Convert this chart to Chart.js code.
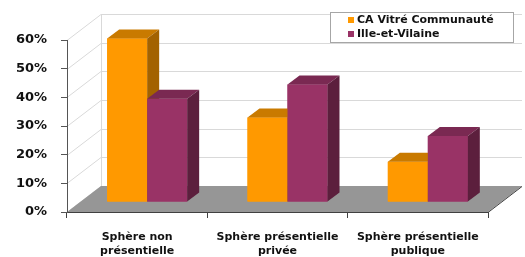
<!DOCTYPE html>
<html>
<head>
<meta charset="utf-8">
<script src="https://cdn.jsdelivr.net/npm/chart.js@4/dist/chart.umd.min.js"></script>
<style>
  html, body { margin: 0; padding: 0; background: #fff; }
</style>
</head>
<body>
<canvas id="chart" width="525" height="257"></canvas>
<script>
categories = [['Sphère non', 'présentielle'], ['Sphère présentielle', 'privée'], ['Sphère présentielle', 'publique']]
seriesNames = ['CA Vitré Communauté', 'Ille-et-Vilaine']
vitre = [57, 29.5, 14]
ille = [36, 41, 23]
yTicks = [0, 10, 20, 30, 40, 50, 60]

// front / top / side shades for the fake 3d look
shades = [
  ['#FF9900', '#C97A00', '#A36200'],
  ['#993366', '#7A2952', '#5C1F3D']
]

wall = {dx: 34, dy: -26}   // back wall offset
barShift = {dx: 10, dy: -10}  // bars sit a bit inside the floor
barDepth = {dx: 12, dy: -9}

threeD = {
  id: 'threeD',
  beforeDraw(chart) {
    const ctx = chart.ctx, a = chart.chartArea, y = chart.scales.y
    ctx.save()
    ctx.strokeStyle = '#d9d9d9'
    ctx.lineWidth = 1
    yTicks.forEach(v => {
      const py = Math.round(y.getPixelForValue(v)) + 0.5
      ctx.beginPath()
      ctx.moveTo(a.left, py)
      ctx.lineTo(a.left + wall.dx, py + wall.dy)
      ctx.lineTo(a.right + wall.dx, py + wall.dy)
      ctx.stroke()
    })
    ctx.beginPath()
    ctx.moveTo(a.left + wall.dx + 0.5, a.top + wall.dy)
    ctx.lineTo(a.left + wall.dx + 0.5, a.bottom + wall.dy)
    ctx.stroke()
    // floor
    ctx.fillStyle = '#969696'
    ctx.beginPath()
    ctx.moveTo(a.left, a.bottom)
    ctx.lineTo(a.right, a.bottom)
    ctx.lineTo(a.right + wall.dx, a.bottom + wall.dy)
    ctx.lineTo(a.left + wall.dx, a.bottom + wall.dy)
    ctx.closePath()
    ctx.fill()
    ctx.strokeStyle = '#404040'
    ctx.beginPath()
    ctx.moveTo(a.right, a.bottom + 0.5)
    ctx.lineTo(a.right + wall.dx, a.bottom + wall.dy + 0.5)
    ctx.stroke()
    ctx.restore()
  },
  beforeDatasetsDraw(chart) {
    chart.ctx.save()
    chart.ctx.translate(barShift.dx, barShift.dy)
  },
  afterDatasetsDraw(chart) {
    const ctx = chart.ctx
    // redraw per category so each bar's faces stack in the right order
    const metas = chart.data.datasets.map((d, i) => chart.getDatasetMeta(i))
    categories.forEach((c, j) => {
      metas.forEach((meta, i) => {
        const el = meta.data[j]
        el.draw(ctx)
        const p = el.getProps(['x', 'y', 'base', 'width'], true)
        const l = p.x - p.width / 2, r = p.x + p.width / 2
        ctx.fillStyle = shades[i][1]
        ctx.beginPath()
        ctx.moveTo(l, p.y)
        ctx.lineTo(l + barDepth.dx, p.y + barDepth.dy)
        ctx.lineTo(r + barDepth.dx, p.y + barDepth.dy)
        ctx.lineTo(r, p.y)
        ctx.closePath()
        ctx.fill()
        ctx.fillStyle = shades[i][2]
        ctx.beginPath()
        ctx.moveTo(r, p.y)
        ctx.lineTo(r + barDepth.dx, p.y + barDepth.dy)
        ctx.lineTo(r + barDepth.dx, p.base + barDepth.dy)
        ctx.lineTo(r, p.base)
        ctx.closePath()
        ctx.fill()
      })
    })
    ctx.restore()
  },
  afterDraw(chart) {
    // legend box over the back wall
    const ctx = chart.ctx
    ctx.save()
    ctx.fillStyle = '#fff'
    ctx.fillRect(330, 12, 183, 30)
    ctx.strokeStyle = '#a6a6a6'
    ctx.strokeRect(330.5, 12.5, 183, 30)
    ctx.font = 'bold 11px "DejaVu Sans"'
    ctx.textBaseline = 'middle'
    chart.data.datasets.forEach((d, i) => {
      const cy = 20 + i * 14
      ctx.fillStyle = d.backgroundColor
      ctx.fillRect(348, cy - 3, 6, 6)
      ctx.fillStyle = '#111'
      ctx.fillText(d.label, 357, cy)
    })
    ctx.restore()
  }
}

config = {
  type: 'bar',
  data: {
    labels: categories,
    datasets: [
      {label: seriesNames[0], data: vitre, backgroundColor: shades[0][0]},
      {label: seriesNames[1], data: ille, backgroundColor: shades[1][0]}
    ]
  },
  options: {
    responsive: false,
    animation: false,
    categoryPercentage: 0.57,
    barPercentage: 1,
    layout: {padding: {top: 40, right: 37, left: 0, bottom: 0}},
    plugins: {legend: {display: false}, tooltip: {enabled: false}},
    scales: {
      x: {
        grid: {drawOnChartArea: false, tickLength: 6, color: '#404040'},
        border: {color: '#404040'},
        ticks: {font: {size: 11, weight: 'bold', lineHeight: 1.3}, color: '#111', padding: 12, maxRotation: 0},
        afterFit(s) { s.height = 45 }
      },
      y: {
        min: 0, max: 60,
        grid: {drawOnChartArea: false, tickLength: 6, color: '#555'},
        border: {color: '#555'},
        ticks: {stepSize: 10, font: {size: 13, weight: 'bold'}, color: '#111', padding: 14,
          callback: v => v + '%'},
        afterFit(s) { s.width = 67 }
      }
    }
  },
  plugins: [threeD]
}

Chart.defaults.font.family = '"DejaVu Sans"'
new Chart(document.getElementById('chart'), config)
</script>
</body>
</html>
